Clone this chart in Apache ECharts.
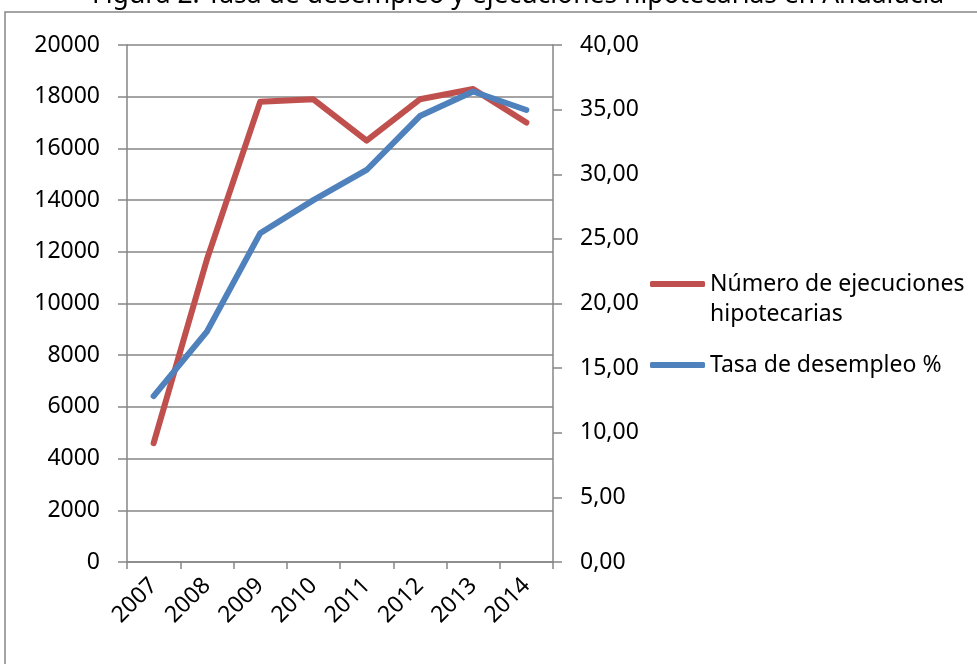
<!DOCTYPE html>
<html lang="es">
<head>
    <meta charset="UTF-8">
    <style>
        html, body { margin: 0; padding: 0; background: #fff; }
        #chart { width: 977px; height: 664px; }
    </style>
    <script src="https://cdn.jsdelivr.net/npm/echarts@6/dist/echarts.min.js"></script>
</head>
<body>
    <div id="chart"></div>
    <script>
        // datos
        var years = ['2007', '2008', '2009', '2010', '2011', '2012', '2013', '2014'];
        var ejecuciones = [4600, 11700, 17800, 17900, 16300, 17900, 18300, 17000];
        var desempleo = [12.84, 17.82, 25.43, 28.0, 30.33, 34.5, 36.4, 34.97];

        var nombreEjec = 'Número de ejecuciones hipotecarias';
        var nombreDesemp = 'Tasa de desempleo %';

        var gris = '#868686';
        var fuente = 'Noto Sans';
        var tam = 23;

        var chart = echarts.init(document.getElementById('chart'));

        var option = {
            backgroundColor: '#fff',
            animation: false,
            title: {
                text: 'Figura 2. Tasa de desempleo y ejecuciones hipotecarias en Andalucía',
                left: 92,
                top: -18,
                padding: 0,
                textStyle: { fontFamily: fuente, fontSize: 26.5, fontWeight: 'normal', color: '#000' }
            },
            graphic: [{
                type: 'rect',
                shape: { x: 5, y: 12, width: 1000, height: 700 },
                style: { fill: 'none', stroke: gris, lineWidth: 1.5 },
                silent: true
            }],
            legend: [{
                data: [nombreEjec],
                left: 645,
                top: 234,
                icon: 'roundRect',
                itemWidth: 55,
                itemHeight: 6,
                formatter: function () { return '\nNúmero de ejecuciones\nhipotecarias'; },
                textStyle: { fontFamily: fuente, fontSize: tam, lineHeight: 30, color: '#000' }
            }, {
                data: [nombreDesemp],
                left: 645,
                top: 345,
                icon: 'roundRect',
                itemWidth: 55,
                itemHeight: 6,
                textStyle: { fontFamily: fuente, fontSize: tam, lineHeight: 30, color: '#000' }
            }],
            grid: { left: 127, right: 424, top: 45, bottom: 102 },
            xAxis: {
                type: 'category',
                data: years,
                boundaryGap: true,
                axisLine: { lineStyle: { color: gris, width: 1.5 } },
                axisTick: { show: true, length: 7, lineStyle: { color: gris, width: 1.5 } },
                axisLabel: {
                    interval: 0, rotate: 45, margin: 20,
                    fontFamily: fuente, fontSize: tam, color: '#000'
                }
            },
            yAxis: [{
                type: 'value',
                min: 0, max: 20000, interval: 2000,
                position: 'left',
                axisLine: { show: true, lineStyle: { color: gris, width: 1.5 } },
                axisTick: { show: true, length: 9, lineStyle: { color: gris, width: 1.5 } },
                splitLine: { show: true, lineStyle: { color: gris, width: 1.5 } },
                axisLabel: {
                    margin: 27, fontFamily: fuente, fontSize: tam, color: '#000',
                    formatter: function (v) { return String(v); }
                }
            }, {
                type: 'value',
                min: 0, max: 40, interval: 5,
                position: 'right',
                axisLine: { show: true, lineStyle: { color: gris, width: 1.5 } },
                axisTick: { show: true, length: 9, lineStyle: { color: gris, width: 1.5 } },
                splitLine: { show: false },
                axisLabel: {
                    margin: 27, fontFamily: fuente, fontSize: tam, color: '#000',
                    formatter: function (v) { return v.toFixed(2).replace('.', ','); }
                }
            }],
            series: [{
                name: nombreEjec,
                type: 'line',
                yAxisIndex: 0,
                data: ejecuciones,
                symbol: 'none',
                color: '#C0504D',
                lineStyle: { width: 6, cap: 'round', join: 'round' }
            }, {
                name: nombreDesemp,
                type: 'line',
                yAxisIndex: 1,
                data: desempleo,
                symbol: 'none',
                color: '#4F81BD',
                lineStyle: { width: 6, cap: 'round', join: 'round' }
            }]
        };

        chart.setOption(option);
    </script>
</body>
</html>
